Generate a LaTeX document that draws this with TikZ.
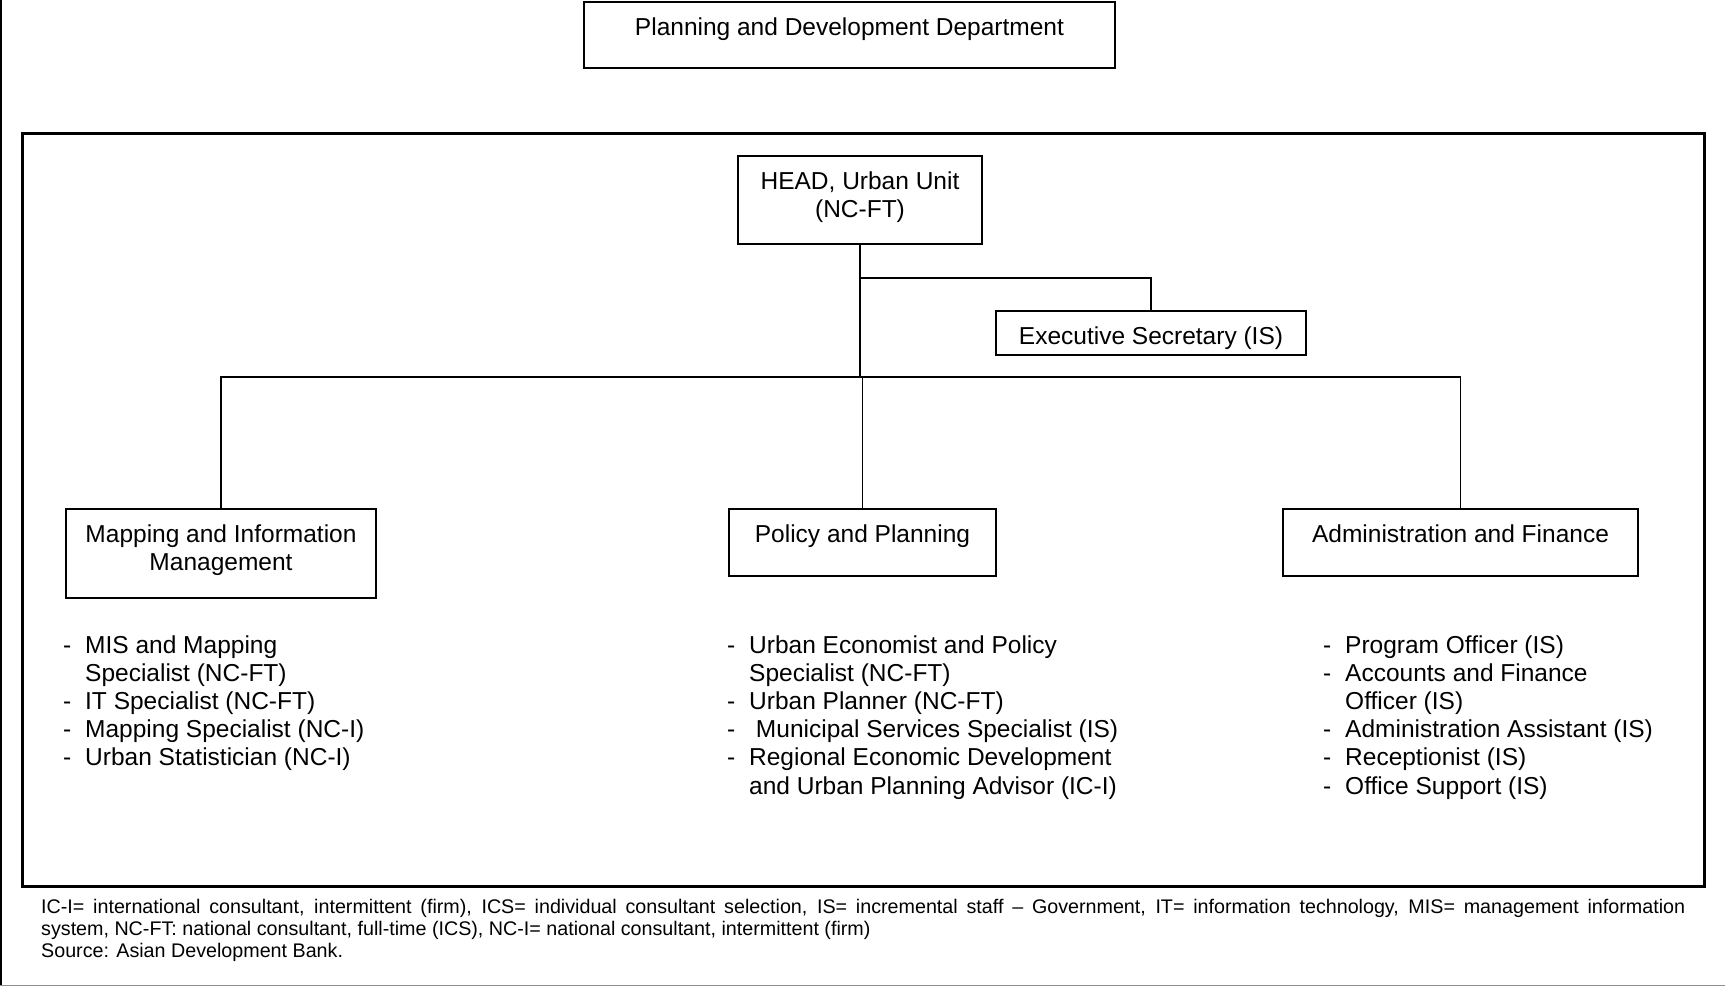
\documentclass[tikz,border=0pt]{standalone}
\usepackage{fontspec}
\setmainfont{Liberation Sans}
\usetikzlibrary{calc}
\def\staff#1{\makebox[22pt][l]{-}#1}
\def\cont#1{\hspace*{22pt}#1}
\tikzset{
	unitbox/.style={draw, line width=1.5pt, inner sep=0pt},
	boxtext/.style={anchor=base, inner sep=0pt, align=center, font=\fontsize{24.5}{28.2}\selectfont},
	stafflist/.style={anchor=base west, inner sep=0pt, align=left, font=\fontsize{24.5}{28.2}\selectfont},
	notetext/.style={anchor=base west, inner sep=0pt, align=left, font=\fontsize{19.7}{22}\selectfont},
	link/.style={line width=1.1pt},
	spine/.style={line width=2.2pt}
}

\begin{document}
\begin{tikzpicture}[x=1pt, y=-1pt]
			%%%%% START %%%%%
			\useasboundingbox (0,0) rectangle (1725,987);
			
			\draw[line width=1.5pt] (1,0) -- (1,985.5);
			\draw[line width=1.5pt, color=black!45] (0,985.5) -- (1725,985.5);
			
			% multi-line texts sit on the baseline of their last line
			\node[unitbox, minimum width=531, minimum height=66] (dept) at (849.5,35) {};
			\node[boxtext] (dept-t) at ($(dept.north)+(0,34)$) {Planning and Development Department};
			
			\draw[line width=3pt] (22,134) rectangle (1704,886);
			
			\node[unitbox, minimum width=244, minimum height=88] (head) at (860,200) {};
			\node[boxtext] (head-t) at ($(head.north)+(0,62.2)$) {HEAD, Urban Unit\\(NC-FT)};
			
			\node[unitbox, minimum width=310, minimum height=44] (exec) at (1151,333) {};
			\node[boxtext] (exec-t) at ($(exec.north)+(0,34)$) {Executive Secretary (IS)};
			
			\node[unitbox, minimum width=310, minimum height=89] (mapping) at (221,553.5) {};
			\node[boxtext] (mapping-t) at ($(mapping.north)+(0,62.2)$) {Mapping and Information\\Management};
			
			\node[unitbox, minimum width=267, minimum height=67] (policy) at (862.5,542.5) {};
			\node[boxtext] (policy-t) at ($(policy.north)+(0,34)$) {Policy and Planning};
			
			\node[unitbox, minimum width=355, minimum height=67] (admin) at (1460.5,542.5) {};
			\node[boxtext] (admin-t) at ($(admin.north)+(0,34)$) {Administration and Finance};
			
			\coordinate (split) at (860,278);
			\coordinate (hub) at (860,377);
			
			\draw[spine] (head.south) -- (hub);
			\draw[link] (split) -| (exec.north);
			\draw[link, line width=1.6pt] (hub) -| (mapping.north);
			\draw[link] (hub) -| (admin.north);
			\draw[link] (hub -| policy.north) -- (policy.north);
			
			\node[stafflist] (mapping-l) at (63,765.8) {\staff{MIS and Mapping}\\\cont{Specialist (NC-FT)}\\\staff{IT Specialist (NC-FT)}\\\staff{Mapping Specialist (NC-I)}\\\staff{Urban Statistician (NC-I)}};
			\node[stafflist] (policy-l) at (727,794) {\staff{Urban Economist and Policy}\\\cont{Specialist (NC-FT)}\\\staff{Urban Planner (NC-FT)}\\\staff{\ Municipal Services Specialist (IS)}\\\staff{Regional Economic Development}\\\cont{and Urban Planning Advisor (IC-I)}};
			\node[stafflist] (admin-l) at (1323,794) {\staff{Program Officer (IS)}\\\staff{Accounts and Finance}\\\cont{Officer (IS)}\\\staff{Administration Assistant (IS)}\\\staff{Receptionist (IS)}\\\staff{Office Support (IS)}};
			
			\node[notetext] (note) at (41,957.5) {\makebox[1644pt][s]{IC-I= international consultant, intermittent (firm), ICS= individual consultant selection, IS= incremental staff -- Government, IT= information technology, MIS= management information}\\system, NC-FT: national consultant, full-time (ICS), NC-I= national consultant, intermittent (firm)\\Source: Asian Development Bank.};
			
			%%%%% END %%%%%
\end{tikzpicture}
\end{document}
